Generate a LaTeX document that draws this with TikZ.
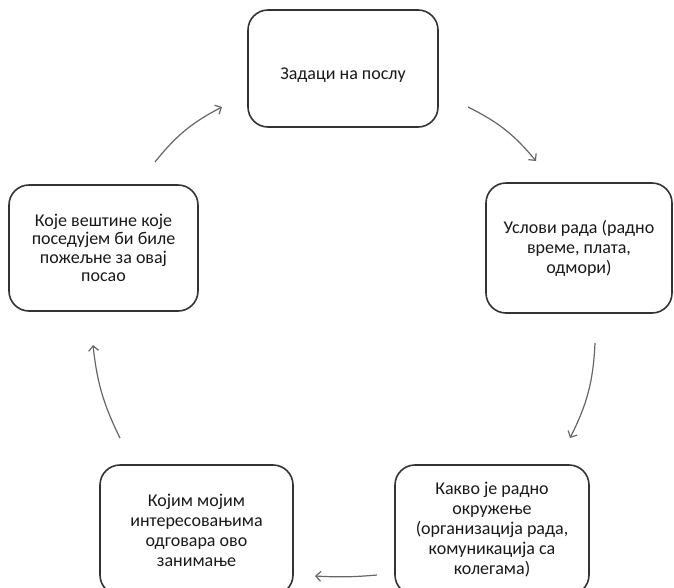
\documentclass[tikz,border=0pt]{standalone}
\usepackage{fontspec}
\setmainfont{Carlito}
\usetikzlibrary{arrows.meta}

\tikzset{
  box/.style={rectangle, rounded corners=20pt, draw=black!80, line width=1.6pt, align=center, inner sep=0pt, font=\fontsize{18}{20}\selectfont, text=black!90},
  flow/.style={-{Straight Barb[length=5pt,width=10pt]}, draw=black!60, line width=1.2pt}
}

\begin{document}
\begin{tikzpicture}[x=1pt,y=-1pt]
    \clip (0,0) rectangle (674,587);
    \node[box, minimum width=190pt, minimum height=117pt, text height=24pt] (tasks) at (343,68.5) {Задаци на послу};
    \node[box, minimum width=186pt, minimum height=130pt] (conds) at (579,248) {Услови рада (радно\\време, плата,\\одмори)};
    \node[box, minimum width=189pt, minimum height=126pt, font=\fontsize{18}{18.5}\selectfont] (skills) at (103.5,248) {Које вештине које\\поседујем би биле\\пожељне за овај\\посао};
    \node[box, minimum width=194pt, minimum height=130pt] (env) at (492,530) {Какво је радно\\окружење\\(организација рада,\\комуникација са\\колегама)};
    \node[box, minimum width=193pt, minimum height=130pt] (inter) at (196.5,530) {Којим мојим\\интересовањима\\одговара ово\\занимање};

    % arrow ends
    \coordinate (a1) at (468,107);
    \coordinate (b1) at (536,161);
    \coordinate (a2) at (595,343);
    \coordinate (b2) at (570,438);
    \coordinate (a3) at (377,575);
    \coordinate (b3) at (315,576);
    \coordinate (a4) at (120,438);
    \coordinate (b4) at (93,345);
    \coordinate (a5) at (155,162);
    \coordinate (b5) at (222,107);

    \draw[flow] (a1) to[bend left=12] (b1);
    \draw[flow] (a2) to[bend left=12] (b2);
    \draw[flow] (a3) to[bend left=4] (b3);
    \draw[flow] (a4) to[bend left=10] (b4);
    \draw[flow] (a5) to[bend left=12] (b5);
\end{tikzpicture}
\end{document}
